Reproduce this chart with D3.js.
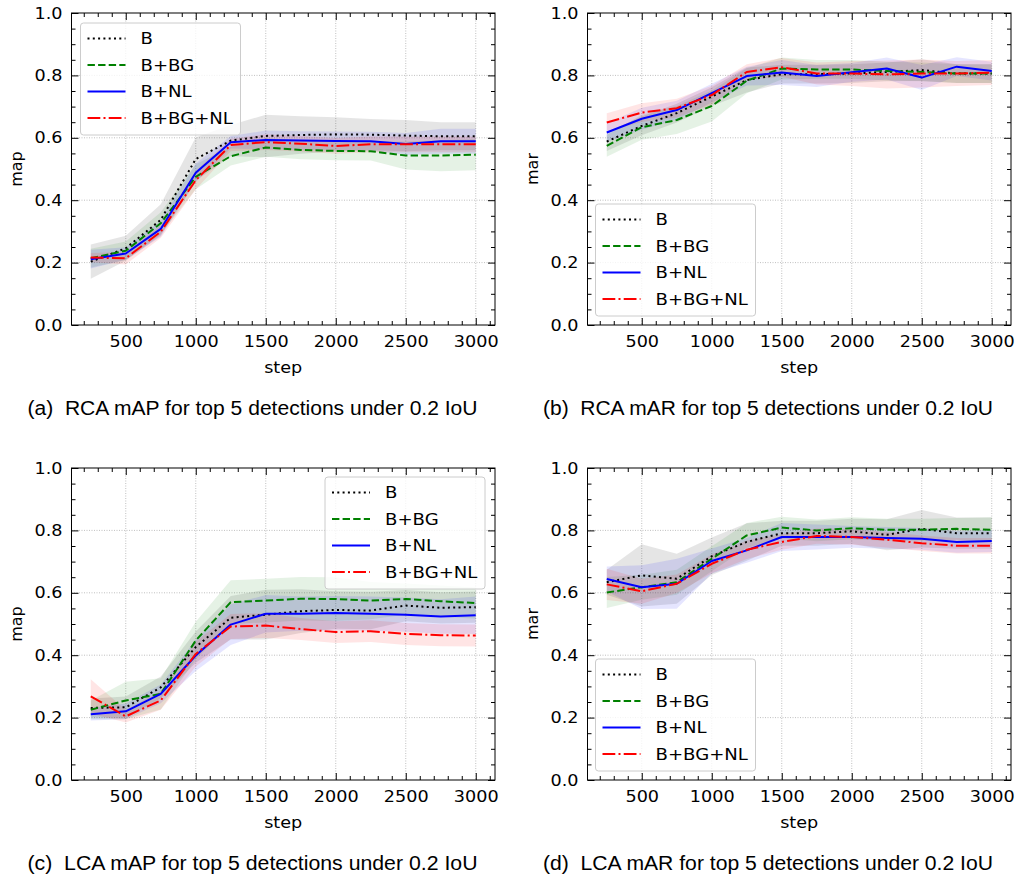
<!DOCTYPE html>
<html>
<head>
<meta charset="utf-8">
<script src="https://cdn.jsdelivr.net/npm/d3@7"></script>
<style>
  body { margin: 0; background: #fff; }
  svg { display: block; }
  text { font-family: "DejaVu Sans", sans-serif; fill: #000; }
  .caption { font-family: "Liberation Sans", Arial, sans-serif; }
</style>
</head>
<body>
<svg id="chart" width="1018" height="880"></svg>
<script>
const steps = [250, 500, 750, 1000, 1250, 1500, 1750, 2000, 2250, 2500, 2750, 3000];
const seriesNames = ["B", "B+BG", "B+NL", "B+BG+NL"];
const xTicks = [500, 1000, 1500, 2000, 2500, 3000];
const yTicks = [0, 0.2, 0.4, 0.6, 0.8, 1.0];

// (a) RCA mAP
const rcaMapB    = [0.203, 0.246, 0.337, 0.532, 0.591, 0.606, 0.609, 0.611, 0.610, 0.607, 0.605, 0.605];
const rcaMapBG   = [0.214, 0.238, 0.326, 0.475, 0.541, 0.569, 0.561, 0.558, 0.557, 0.543, 0.543, 0.546];
const rcaMapNL   = [0.211, 0.229, 0.308, 0.488, 0.586, 0.593, 0.591, 0.590, 0.589, 0.580, 0.589, 0.589];
const rcaMapBGNL = [0.216, 0.214, 0.299, 0.464, 0.577, 0.586, 0.581, 0.574, 0.579, 0.579, 0.579, 0.579];
const rcaMapBSd    = [0.055, 0.04, 0.05, 0.07, 0.05, 0.068, 0.06, 0.055, 0.05, 0.05, 0.045, 0.045];
const rcaMapBGSd   = [0.03, 0.03, 0.035, 0.04, 0.03, 0.03, 0.03, 0.03, 0.03, 0.045, 0.05, 0.05];
const rcaMapNLSd   = [0.03, 0.02, 0.025, 0.03, 0.02, 0.03, 0.03, 0.03, 0.03, 0.035, 0.04, 0.04];
const rcaMapBGNLSd = [0.015, 0.02, 0.02, 0.03, 0.02, 0.025, 0.025, 0.025, 0.025, 0.025, 0.025, 0.025];

// (b) RCA mAR
const rcaMarB    = [0.588, 0.638, 0.679, 0.732, 0.785, 0.804, 0.804, 0.806, 0.811, 0.817, 0.806, 0.806];
const rcaMarBG   = [0.574, 0.634, 0.657, 0.702, 0.783, 0.822, 0.819, 0.819, 0.814, 0.811, 0.806, 0.806];
const rcaMarNL   = [0.617, 0.661, 0.689, 0.743, 0.798, 0.809, 0.798, 0.810, 0.822, 0.793, 0.828, 0.814];
const rcaMarBGNL = [0.649, 0.681, 0.695, 0.737, 0.811, 0.826, 0.806, 0.806, 0.803, 0.806, 0.806, 0.809];
const rcaMarBSd    = [0.03, 0.03, 0.03, 0.03, 0.04, 0.03, 0.03, 0.03, 0.03, 0.035, 0.03, 0.03];
const rcaMarBGSd   = [0.035, 0.04, 0.045, 0.05, 0.04, 0.035, 0.03, 0.03, 0.03, 0.03, 0.03, 0.03];
const rcaMarNLSd   = [0.03, 0.035, 0.03, 0.03, 0.03, 0.04, 0.035, 0.03, 0.035, 0.04, 0.03, 0.03];
const rcaMarBGNLSd = [0.03, 0.03, 0.03, 0.03, 0.025, 0.03, 0.035, 0.04, 0.045, 0.045, 0.04, 0.04];

// (c) LCA mAP
const lcaMapB    = [0.231, 0.233, 0.297, 0.426, 0.520, 0.530, 0.541, 0.545, 0.543, 0.559, 0.552, 0.554];
const lcaMapBG   = [0.225, 0.255, 0.276, 0.447, 0.570, 0.575, 0.581, 0.580, 0.575, 0.580, 0.573, 0.567];
const lcaMapNL   = [0.211, 0.220, 0.276, 0.399, 0.498, 0.533, 0.533, 0.535, 0.533, 0.530, 0.524, 0.528];
const lcaMapBGNL = [0.268, 0.204, 0.255, 0.404, 0.492, 0.495, 0.484, 0.474, 0.477, 0.468, 0.464, 0.463];
const lcaMapBSd    = [0.03, 0.035, 0.035, 0.05, 0.07, 0.08, 0.07, 0.06, 0.06, 0.05, 0.05, 0.05];
const lcaMapBGSd   = [0.03, 0.06, 0.05, 0.06, 0.07, 0.07, 0.07, 0.07, 0.06, 0.05, 0.05, 0.05];
const lcaMapNLSd   = [0.02, 0.025, 0.03, 0.05, 0.065, 0.06, 0.055, 0.055, 0.055, 0.055, 0.055, 0.06];
const lcaMapBGNLSd = [0.055, 0.02, 0.03, 0.04, 0.04, 0.04, 0.035, 0.035, 0.035, 0.035, 0.035, 0.035];

// (d) LCA mAR
const lcaMarB    = [0.634, 0.656, 0.645, 0.717, 0.763, 0.791, 0.791, 0.797, 0.786, 0.805, 0.791, 0.791];
const lcaMarBG   = [0.601, 0.618, 0.634, 0.709, 0.784, 0.809, 0.800, 0.807, 0.802, 0.802, 0.805, 0.802];
const lcaMarNL   = [0.644, 0.618, 0.629, 0.702, 0.736, 0.779, 0.779, 0.779, 0.776, 0.773, 0.763, 0.766];
const lcaMarBGNL = [0.627, 0.605, 0.629, 0.693, 0.738, 0.763, 0.782, 0.779, 0.770, 0.759, 0.751, 0.751];
const lcaMarBSd    = [0.04, 0.1, 0.08, 0.06, 0.06, 0.04, 0.04, 0.04, 0.05, 0.06, 0.05, 0.05];
const lcaMarBGSd   = [0.05, 0.04, 0.04, 0.04, 0.04, 0.035, 0.035, 0.035, 0.035, 0.035, 0.035, 0.04];
const lcaMarNLSd   = [0.04, 0.07, 0.08, 0.04, 0.04, 0.045, 0.04, 0.035, 0.035, 0.035, 0.035, 0.035];
const lcaMarBGNLSd = [0.05, 0.04, 0.03, 0.03, 0.03, 0.025, 0.025, 0.025, 0.025, 0.025, 0.025, 0.025];

const colors = ["#000000", "#008000", "#0000ff", "#ff0000"];
const dashes = ["2,3.3", "7.4,3.2", null, "12.8,3.2,2,3.2"];

const cols = [{ left: 71.5, right: 495, capX: 252.5 }, { left: 587.5, right: 1011, capX: 768 }];
const rows = [{ top: 13, bottom: 325 }, { top: 468, bottom: 780 }];

const panels = [
    { row: 0, col: 0, ylabel: "map", legend: "upper left",
      caption: "(a)\u00a0 RCA mAP for top 5 detections under 0.2 IoU",
      means: [rcaMapB, rcaMapBG, rcaMapNL, rcaMapBGNL],
      sds: [rcaMapBSd, rcaMapBGSd, rcaMapNLSd, rcaMapBGNLSd] },
    { row: 0, col: 1, ylabel: "mar", legend: "lower left",
      caption: "(b)\u00a0 RCA mAR for top 5 detections under 0.2 IoU",
      means: [rcaMarB, rcaMarBG, rcaMarNL, rcaMarBGNL],
      sds: [rcaMarBSd, rcaMarBGSd, rcaMarNLSd, rcaMarBGNLSd] },
    { row: 1, col: 0, ylabel: "map", legend: "upper right",
      caption: "(c)\u00a0 LCA mAP for top 5 detections under 0.2 IoU",
      means: [lcaMapB, lcaMapBG, lcaMapNL, lcaMapBGNL],
      sds: [lcaMapBSd, lcaMapBGSd, lcaMapNLSd, lcaMapBGNLSd] },
    { row: 1, col: 1, ylabel: "mar", legend: "lower left",
      caption: "(d)\u00a0 LCA mAR for top 5 detections under 0.2 IoU",
      means: [lcaMarB, lcaMarBG, lcaMarNL, lcaMarBGNL],
      sds: [lcaMarBSd, lcaMarBGSd, lcaMarNLSd, lcaMarBGNLSd] }
];

const svg = d3.select("#chart");
const minorX = d3.range(200, 3200, 100).filter(v => v % 500 !== 0);
const minorY = d3.range(0, 1.0001, 0.05).filter((v, i) => i % 4 !== 0);

// the reference glyphs run a bit wider than the browser's, so stretch text sideways
function widen(sel, f) {
    sel.each(function () {
        const w = this.getComputedTextLength();
        if (w > 0) d3.select(this).attr("textLength", w * f).attr("lengthAdjust", "spacingAndGlyphs");
    });
}

panels.forEach((p, pi) => {
    const c = cols[p.col], r = rows[p.row];
    const x = d3.scaleLinear().domain([112.5, 3137.5]).range([c.left, c.right]);
    const y = d3.scaleLinear().domain([0, 1]).range([r.bottom, r.top]);
    const g = svg.append("g");

    const clipId = "clip" + pi;
    g.append("clipPath").attr("id", clipId)
        .append("rect")
        .attr("x", c.left).attr("y", r.top)
        .attr("width", c.right - c.left).attr("height", r.bottom - r.top);

    // grid
    g.append("g").selectAll("line")
        .data(xTicks).enter().append("line")
        .attr("x1", d => x(d)).attr("x2", d => x(d))
        .attr("y1", r.top).attr("y2", r.bottom)
        .attr("stroke", "#b0b0b0").attr("stroke-width", 0.8)
        .attr("stroke-dasharray", "1,1.5");
    g.append("g").selectAll("line")
        .data(yTicks.slice(1, -1)).enter().append("line")
        .attr("x1", c.left).attr("x2", c.right)
        .attr("y1", d => y(d)).attr("y2", d => y(d))
        .attr("stroke", "#b0b0b0").attr("stroke-width", 0.8)
        .attr("stroke-dasharray", "1,1.5");

    // bands
    const plot = g.append("g").attr("clip-path", `url(#${clipId})`);
    p.means.forEach((m, si) => {
        const area = d3.area()
            .x((d, i) => x(steps[i]))
            .y0((d, i) => y(d - p.sds[si][i]))
            .y1((d, i) => y(d + p.sds[si][i]));
        plot.append("path")
            .datum(m)
            .attr("d", area)
            .attr("fill", colors[si])
            .attr("fill-opacity", 0.1);
    });

    // lines
    p.means.forEach((m, si) => {
        const line = d3.line().x((d, i) => x(steps[i])).y(d => y(d));
        plot.append("path")
            .datum(m)
            .attr("d", line)
            .attr("fill", "none")
            .attr("stroke", colors[si])
            .attr("stroke-width", 2)
            .attr("stroke-linejoin", "round")
            .attr("stroke-dasharray", dashes[si]);
    });

    // axes with inward ticks
    const axes = [
        { axis: d3.axisBottom(x).tickValues(xTicks).tickFormat(d3.format("d")), at: `translate(0,${r.bottom})`, size: -7, pad: 11 },
        { axis: d3.axisBottom(x).tickValues(minorX).tickFormat(""), at: `translate(0,${r.bottom})`, size: -4, pad: 0 },
        { axis: d3.axisTop(x).tickValues(xTicks).tickFormat(""), at: `translate(0,${r.top})`, size: -7, pad: 0 },
        { axis: d3.axisTop(x).tickValues(minorX).tickFormat(""), at: `translate(0,${r.top})`, size: -4, pad: 0 },
        { axis: d3.axisLeft(y).tickValues(yTicks).tickFormat(d3.format(".1f")), at: `translate(${c.left},0)`, size: -7, pad: 9 },
        { axis: d3.axisLeft(y).tickValues(minorY).tickFormat(""), at: `translate(${c.left},0)`, size: -4, pad: 0 },
        { axis: d3.axisRight(y).tickValues(yTicks).tickFormat(""), at: `translate(${c.right},0)`, size: -7, pad: 0 },
        { axis: d3.axisRight(y).tickValues(minorY).tickFormat(""), at: `translate(${c.right},0)`, size: -4, pad: 0 }
    ];
    axes.forEach(a => {
        const ag = g.append("g")
            .attr("transform", a.at)
            .call(a.axis.tickSizeInner(a.size).tickSizeOuter(0).tickPadding(a.pad));
        ag.select(".domain").remove();
        ag.selectAll("line").attr("stroke", "#000").attr("stroke-width", 1);
        ag.selectAll("text").style("font-family", "DejaVu Sans").style("font-size", "16px").attr("fill", "#000");
        widen(ag.selectAll("text"), 1.1);
    });

    // frame
    g.append("rect")
        .attr("x", c.left).attr("y", r.top)
        .attr("width", c.right - c.left).attr("height", r.bottom - r.top)
        .attr("fill", "none").attr("stroke", "#000").attr("stroke-width", 1);

    // labels
    g.append("text")
        .attr("x", (c.left + c.right) / 2).attr("y", r.bottom + 48)
        .attr("text-anchor", "middle").style("font-size", "16px")
        .text("step")
        .call(widen, 1.1);
    g.append("text")
        .attr("transform", `translate(${c.left - 50},${(r.top + r.bottom) / 2}) rotate(-90)`)
        .attr("text-anchor", "middle").style("font-size", "16px")
        .text(p.ylabel);
    g.append("text")
        .attr("class", "caption")
        .attr("x", c.capX).attr("y", r.bottom + 90)
        .attr("text-anchor", "middle").style("font-size", "20px")
        .attr("textLength", 450).attr("lengthAdjust", "spacingAndGlyphs")
        .text(p.caption);

    // legend
    const lw = 160, lh = 112;
    let lx = c.left + 9, ly = r.top + 10;
    if (p.legend === "lower left") { ly = r.bottom - 9 - lh; lx = c.left + 8; }
    if (p.legend === "upper right") { lx = c.right - 10 - lw; ly = r.top + 9; }
    const lg = g.append("g").attr("transform", `translate(${lx},${ly})`);
    lg.append("rect")
        .attr("width", lw).attr("height", lh).attr("rx", 3)
        .attr("fill", "#fff").attr("fill-opacity", 0.8)
        .attr("stroke", "#cccccc").attr("stroke-width", 1);
    seriesNames.forEach((name, si) => {
        const ey = 15.6 + si * 26.5;
        lg.append("line")
            .attr("x1", 7).attr("x2", 45).attr("y1", ey).attr("y2", ey)
            .attr("stroke", colors[si]).attr("stroke-width", 2)
            .attr("stroke-dasharray", dashes[si]);
        lg.append("text")
            .attr("x", 60).attr("y", ey).attr("dy", "0.36em")
            .style("font-size", "16px")
            .text(name)
            .call(widen, 1.13);
    });
});
</script>
</body>
</html>
